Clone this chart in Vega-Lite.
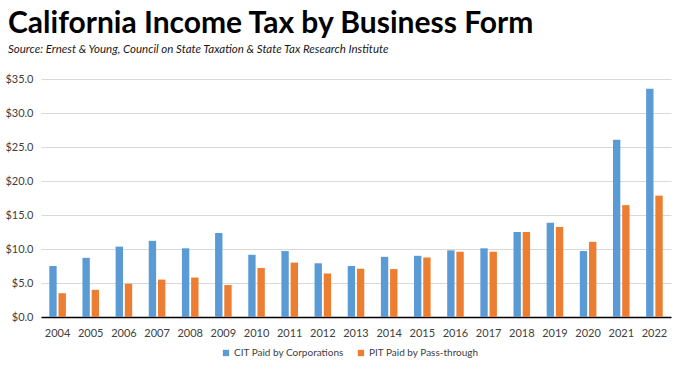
{
  "$schema": "https://vega.github.io/schema/vega-lite/v6.json",
  "width": 630,
  "height": 238,
  "autosize": {"type": "none"},
  "padding": {"left": 41, "top": 79, "right": 14, "bottom": 55},
  "background": "white",
  "title": {
    "text": "California Income Tax by Business Form",
    "subtitle": "Source:  Ernest & Young, Council on State Taxation & State Tax Research Institute",
    "anchor": "start",
    "frame": "group",
    "dx": -33,
    "offset": 18,
    "font": "Lato",
    "fontSize": 30,
    "fontWeight": "bold",
    "color": "#000000",
    "subtitleFont": "Lato",
    "subtitleFontSize": 11.5,
    "subtitleFontStyle": "italic",
    "subtitleFontWeight": "normal",
    "subtitleColor": "#1a1a1a",
    "subtitlePadding": 5
  },
  "data": {
    "values": [
      {"year": "2004", "type": "CIT Paid by Corporations", "value": 7.5},
      {"year": "2004", "type": "PIT Paid by Pass-through", "value": 3.5},
      {"year": "2005", "type": "CIT Paid by Corporations", "value": 8.7},
      {"year": "2005", "type": "PIT Paid by Pass-through", "value": 4.0},
      {"year": "2006", "type": "CIT Paid by Corporations", "value": 10.35},
      {"year": "2006", "type": "PIT Paid by Pass-through", "value": 4.9},
      {"year": "2007", "type": "CIT Paid by Corporations", "value": 11.2},
      {"year": "2007", "type": "PIT Paid by Pass-through", "value": 5.5},
      {"year": "2008", "type": "CIT Paid by Corporations", "value": 10.1},
      {"year": "2008", "type": "PIT Paid by Pass-through", "value": 5.8},
      {"year": "2009", "type": "CIT Paid by Corporations", "value": 12.35},
      {"year": "2009", "type": "PIT Paid by Pass-through", "value": 4.7},
      {"year": "2010", "type": "CIT Paid by Corporations", "value": 9.15},
      {"year": "2010", "type": "PIT Paid by Pass-through", "value": 7.2},
      {"year": "2011", "type": "CIT Paid by Corporations", "value": 9.7},
      {"year": "2011", "type": "PIT Paid by Pass-through", "value": 8.0},
      {"year": "2012", "type": "CIT Paid by Corporations", "value": 7.9},
      {"year": "2012", "type": "PIT Paid by Pass-through", "value": 6.4},
      {"year": "2013", "type": "CIT Paid by Corporations", "value": 7.5},
      {"year": "2013", "type": "PIT Paid by Pass-through", "value": 7.1},
      {"year": "2014", "type": "CIT Paid by Corporations", "value": 8.85},
      {"year": "2014", "type": "PIT Paid by Pass-through", "value": 7.05},
      {"year": "2015", "type": "CIT Paid by Corporations", "value": 9.0},
      {"year": "2015", "type": "PIT Paid by Pass-through", "value": 8.75},
      {"year": "2016", "type": "CIT Paid by Corporations", "value": 9.8},
      {"year": "2016", "type": "PIT Paid by Pass-through", "value": 9.6},
      {"year": "2017", "type": "CIT Paid by Corporations", "value": 10.1},
      {"year": "2017", "type": "PIT Paid by Pass-through", "value": 9.6},
      {"year": "2018", "type": "CIT Paid by Corporations", "value": 12.5},
      {"year": "2018", "type": "PIT Paid by Pass-through", "value": 12.5},
      {"year": "2019", "type": "CIT Paid by Corporations", "value": 13.85},
      {"year": "2019", "type": "PIT Paid by Pass-through", "value": 13.25},
      {"year": "2020", "type": "CIT Paid by Corporations", "value": 9.7},
      {"year": "2020", "type": "PIT Paid by Pass-through", "value": 11.05},
      {"year": "2021", "type": "CIT Paid by Corporations", "value": 26.05},
      {"year": "2021", "type": "PIT Paid by Pass-through", "value": 16.45},
      {"year": "2022", "type": "CIT Paid by Corporations", "value": 33.55},
      {"year": "2022", "type": "PIT Paid by Pass-through", "value": 17.85}
    ]
  },
  "mark": {"type": "bar"},
  "encoding": {
    "x": {
      "field": "year",
      "type": "nominal",
      "scale": {"paddingInner": 0.5, "paddingOuter": 0.25},
      "axis": {
        "title": null,
        "labelAngle": 0,
        "ticks": false,
        "domainColor": "#000000",
        "domainWidth": 1.5,
        "labelColor": "#404040",
        "labelFont": "Lato",
        "labelFontSize": 11,
        "labelPadding": 10
      }
    },
    "xOffset": {
      "field": "type",
      "type": "nominal",
      "scale": {"paddingInner": 0.2}
    },
    "y": {
      "field": "value",
      "type": "quantitative",
      "scale": {"domain": [0, 35], "nice": false},
      "axis": {
        "title": null,
        "values": [0, 5, 10, 15, 20, 25, 30, 35],
        "format": "$.1f",
        "domain": false,
        "ticks": false,
        "gridColor": "#d9d9d9",
        "gridWidth": 1,
        "labelColor": "#404040",
        "labelFont": "Lato",
        "labelFontSize": 11,
        "labelPadding": 8
      }
    },
    "color": {
      "field": "type",
      "type": "nominal",
      "scale": {"range": ["#5b9bd5", "#ed7d31"]},
      "legend": {
        "title": null,
        "orient": "none",
        "legendX": 180,
        "legendY": 269,
        "direction": "horizontal",
        "symbolType": "square",
        "symbolSize": 40,
        "symbolStrokeWidth": 0,
        "labelFont": "Lato",
        "labelFontSize": 10,
        "labelColor": "#404040",
        "labelOffset": 3,
        "columnPadding": 12
      }
    }
  },
  "config": {
    "view": {"stroke": null}
  }
}
